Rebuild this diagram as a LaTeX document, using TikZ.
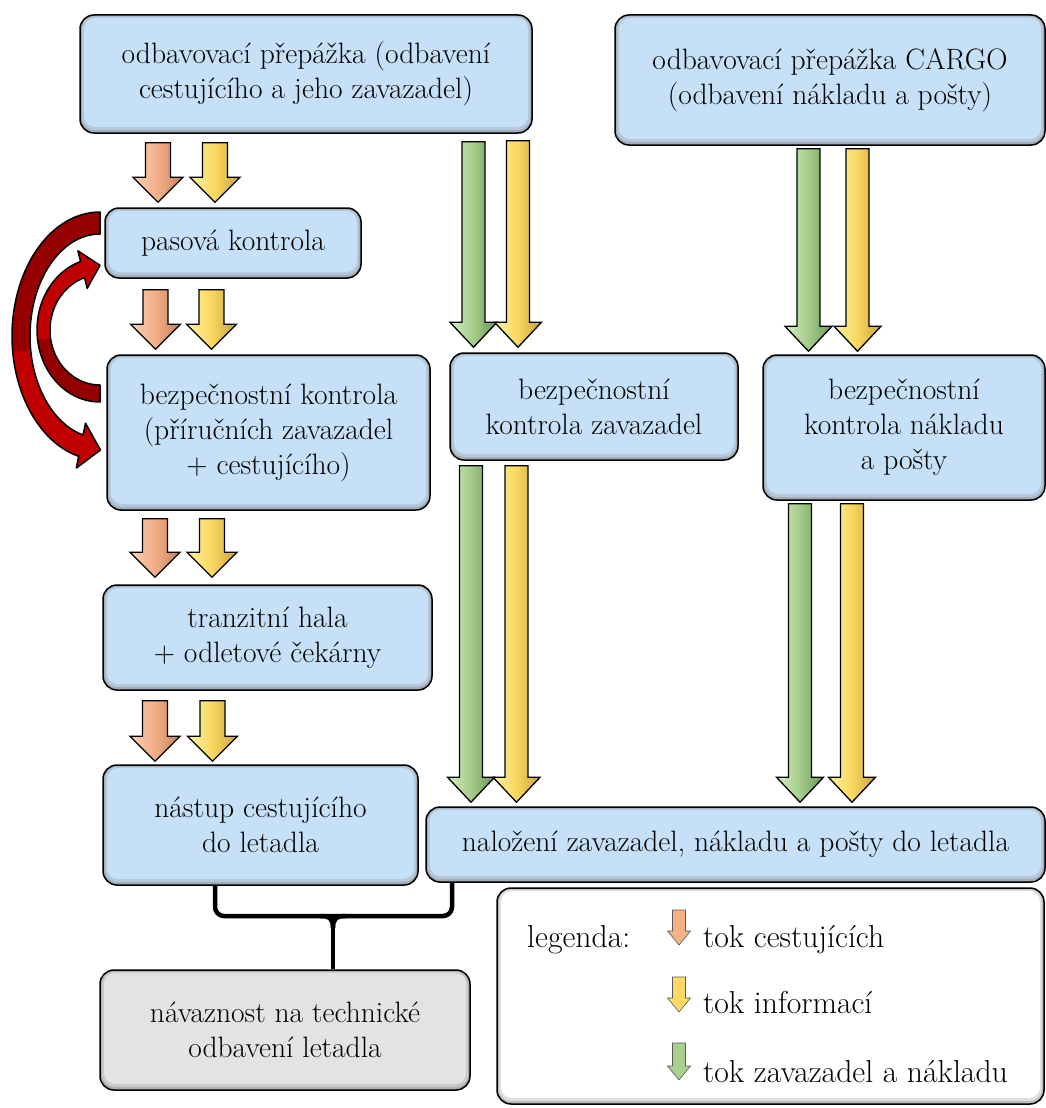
\documentclass[tikz,border=0pt]{standalone}
\usepackage{fontspec}
\usetikzlibrary{calc}

\definecolor{boxblue}{HTML}{C6E0F8}
\definecolor{boxgrey}{HTML}{E3E3E3}
\definecolor{orL}{HTML}{FAD0B4}
\definecolor{orM}{HTML}{F2AD86}
\definecolor{orD}{HTML}{C4835F}
\definecolor{yeL}{HTML}{FFF0A0}
\definecolor{yeM}{HTML}{F9D760}
\definecolor{yeD}{HTML}{C9A238}
\definecolor{grL}{HTML}{D3EBC3}
\definecolor{grM}{HTML}{A4CC89}
\definecolor{grD}{HTML}{6C9655}
\definecolor{redL}{HTML}{C00000}
\definecolor{redD}{HTML}{940000}
\definecolor{legOr}{HTML}{F4B183}
\definecolor{legYe}{HTML}{FFD966}
\definecolor{legGr}{HTML}{A9D18E}

\newcommand\boxfont{\rmfamily\fontsize{29.5}{35}\selectfont}
\newcommand\legfont{\rmfamily\fontsize{31.7}{38}\selectfont}

\tikzset{
  panel/.style={draw=black, line width=1.5pt, rounded corners=14pt, fill=#1,
    align=center, inner sep=0pt, font=\boxfont, text=black,
    path picture={
      \fill[#1!45!gray] (path picture bounding box.south west) rectangle (path picture bounding box.north east);
      \fill[#1!75!gray, rounded corners=12pt]
        ([shift={(2pt,3pt)}]path picture bounding box.south west) rectangle
        ([shift={(-2pt,-1.5pt)}]path picture bounding box.north east);
      \fill[#1, rounded corners=11pt]
        ([shift={(4pt,6pt)}]path picture bounding box.south west) rectangle
        ([shift={(-4pt,-3pt)}]path picture bounding box.north east);
    }},
  oflow/.style={draw=black, line width=1.3pt, left color=orL, right color=orD, middle color=orM},
  yflow/.style={draw=black, line width=1.3pt, left color=yeL, right color=yeD, middle color=yeM},
  gflow/.style={draw=black, line width=1.3pt, left color=grL, right color=grD, middle color=grM},
  bracket/.style={draw=black, line width=4.5pt, rounded corners=9pt},
  legtext/.style={anchor=base west, inner sep=0pt, font=\legfont, text=black},
}

% block arrow between two nodes: style, x, source, target, top gap, tip gap, half shaft, half head
\newcommand\blockarrow[8]{%
  \path[#1] let \p1=(#3.south), \p2=(#4.north) in
    (#2pt-#7pt,\y1-#5pt) -- (#2pt+#7pt,\y1-#5pt) -- (#2pt+#7pt,\y2+#6pt+25pt)
    -- (#2pt+#8pt,\y2+#6pt+25pt) -- (#2pt,\y2+#6pt) -- (#2pt-#8pt,\y2+#6pt+25pt)
    -- (#2pt-#7pt,\y2+#6pt+25pt) -- cycle;}

% small legend arrow: colour, centre x, top y, tip y
\newcommand\legicon[4]{%
  \path[fill=#1, draw=gray!70!black, line width=.6pt]
    (#2-6.5,#3) -- (#2+6.5,#3) -- (#2+6.5,#4-14) -- (#2+11.5,#4-14) -- (#2,#4)
    -- (#2-11.5,#4-14) -- (#2-6.5,#4-14) -- cycle;}

% curved return arrows beside the passport and security checks
\newcommand\loopout[1]{%
  \path[#1] (100,212)
    -- plot[domain=-90:-256,samples=60] ({100+88*cos(\x)},{336+124*sin(\x)})
    -- (76.3,468.1) -- (100.5,450) -- (85.5,423.2)
    -- plot[domain=-256:-90,samples=60] ({100+70*cos(\x)},{336+102*sin(\x)}) -- cycle;}
\newcommand\loopin[1]{%
  \path[#1] (100,402)
    -- plot[domain=90:252,samples=50] ({100+63*cos(\x)},{330+72*sin(\x)})
    -- (77.9,250.8) -- (100,265.3) -- (87.2,288.4)
    -- plot[domain=252:90,samples=50] ({100+50*cos(\x)},{330+55*sin(\x)}) -- cycle;}

\begin{document}
\begin{tikzpicture}[x=1pt,y=-1pt]
\useasboundingbox (0,0) rectangle (1046,1108);

% process boxes
\node[panel=boxblue, minimum width=452pt, minimum height=118pt] (tl) at (306,74)
  {odbavovací přepážka (odbavení\\cestujícího a jeho zavazadel)};
\node[panel=boxblue, minimum width=430pt, minimum height=130pt] (tr) at (830,80)
  {odbavovací přepážka CARGO\\(odbavení nákladu a pošty)};
\node[panel=boxblue, minimum width=256pt, minimum height=70pt] (pas) at (233,243)
  {pasová kontrola};
\node[panel=boxblue, minimum width=323pt, minimum height=155pt] (bk) at (268.5,432.5)
  {bezpečnostní kontrola\\(příručních zavazadel\\+ cestujícího)};
\node[panel=boxblue, minimum width=288pt, minimum height=107pt] (bkz) at (594,406.5)
  {bezpečnostní\\kontrola zavazadel};
\node[panel=boxblue, minimum width=282pt, minimum height=145pt] (bkn) at (904,427.5)
  {bezpečnostní\\kontrola nákladu\\a pošty};
\node[panel=boxblue, minimum width=329pt, minimum height=105pt] (th) at (267.5,637.5)
  {tranzitní hala\\+ odletové čekárny};
\node[panel=boxblue, minimum width=315pt, minimum height=120pt] (nas) at (260.5,825)
  {nástup cestujícího\\do letadla};
\node[panel=boxblue, minimum width=619pt, minimum height=75pt] (nal) at (735.5,844.5)
  {naložení zavazadel, nákladu a pošty do letadla};
\node[panel=boxgrey, minimum width=370pt, minimum height=120pt] (nav) at (285,1030)
  {návaznost na technické\\odbavení letadla};
\node[panel=white, minimum width=547pt, minimum height=216pt] (leg) at (770.5,996) {};

% passenger and information flows
\blockarrow{oflow}{158}{tl}{pas}{9}{5}{12.5}{25}
\blockarrow{yflow}{215}{tl}{pas}{9}{5}{12.5}{25}
\blockarrow{oflow}{155.5}{pas}{bk}{11}{5}{12.5}{25}
\blockarrow{yflow}{211.5}{pas}{bk}{11}{5}{12.5}{25}
\blockarrow{oflow}{155}{bk}{th}{8}{7}{12.5}{25}
\blockarrow{yflow}{212}{bk}{th}{8}{7}{12.5}{25}
\blockarrow{oflow}{155}{th}{nas}{10}{3}{12.5}{25}
\blockarrow{yflow}{212.5}{th}{nas}{10}{3}{12.5}{25}

% baggage, cargo and information flows
\blockarrow{gflow}{473.5}{tl}{bkz}{8}{5}{11.5}{23.5}
\blockarrow{yflow}{518}{tl}{bkz}{7}{5}{11.5}{23.5}
\blockarrow{gflow}{471}{bkz}{nal}{5}{4}{11.5}{23.5}
\blockarrow{yflow}{516.5}{bkz}{nal}{5}{4}{11.5}{23.5}
\blockarrow{gflow}{808.5}{tr}{bkn}{3}{3}{11.5}{23.5}
\blockarrow{yflow}{857.5}{tr}{bkn}{3}{3}{11.5}{23.5}
\blockarrow{gflow}{800}{bkn}{nal}{3}{4}{11.5}{23.5}
\blockarrow{yflow}{852}{bkn}{nal}{3}{4}{11.5}{23.5}

% return loops between passport control and security check
\loopout{fill=redL}
\begin{scope}
  \clip (0,0) rectangle (106,350);
  \loopout{fill=redD}
\end{scope}
\loopout{draw=black, line width=1.5pt, line join=round}
\loopin{fill=redD}
\begin{scope}
  \clip (0,0) rectangle (106,338);
  \loopin{fill=redL}
\end{scope}
\loopin{draw=black, line width=1.5pt, line join=round}

% bracket joining boarding and loading to the technical handling
\draw[bracket] (215,0 |- nas.south) -- (215,916) -- (452,916) -- (452,0 |- nal.south);
\draw[draw=black, line width=4.5pt] (333,926) -- (333,0 |- nav.north);
\draw[draw=black, line width=4.5pt] (320,916) .. controls (330,916) and (333,919) .. (333,928);
\draw[draw=black, line width=4.5pt] (346,916) .. controls (336,916) and (333,919) .. (333,928);

% legend
\node[legtext] (lg) at (527,947) {legenda:};
\legicon{legOr}{679}{910}{945}
\node[legtext] (l1) at (703,947) {tok cestujících};
\legicon{legYe}{679}{977}{1012}
\node[legtext] (l2) at (703,1013) {tok informací};
\legicon{legGr}{679}{1043}{1080}
\node[legtext] (l3) at (703,1082) {tok zavazadel a nákladu};
\end{tikzpicture}
\end{document}
